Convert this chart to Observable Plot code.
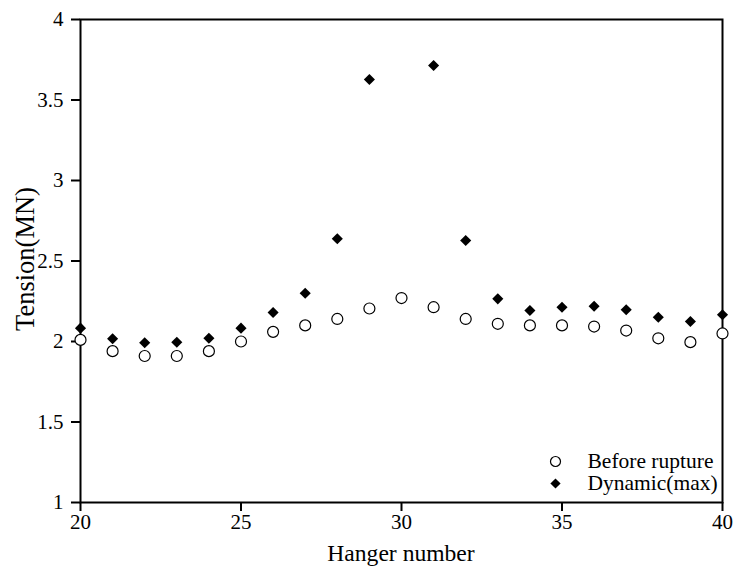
<!DOCTYPE html>
<html>
<head>
<meta charset="utf-8">
<script src="https://cdn.jsdelivr.net/npm/d3@7"></script>
<script src="https://cdn.jsdelivr.net/npm/@observablehq/plot@0.6"></script>
<style>
  html, body { margin: 0; padding: 0; background: #fff; font-family: "Liberation Serif", "Times New Roman", serif; color: #000; }
  #wrap { position: relative; width: 737px; height: 572px; }
  .ttl { position: absolute; white-space: nowrap; line-height: 1; font-family: "Liberation Serif", "Times New Roman", serif; }
  #xtitle { left: 80px; width: 642px; top: 542px; text-align: center; font-size: 23.6px; }
  #ytitle { left: 24.5px; top: 259px; font-size: 26.5px; transform: translate(-50%, -50%) rotate(-90deg); }
</style>
</head>
<body>
<div id="wrap">
  <div id="chart"></div>
  <div id="xtitle" class="ttl"></div>
  <div id="ytitle" class="ttl"></div>
</div>
<script>
const hangers = [20, 21, 22, 23, 24, 25, 26, 27, 28, 29, 30, 31, 32, 33, 34, 35, 36, 37, 38, 39, 40];
const beforeRupture = [2.01, 1.94, 1.91, 1.91, 1.94, 2.00, 2.06, 2.10, 2.14, 2.205, 2.27, 2.213, 2.14, 2.11, 2.10, 2.10, 2.093, 2.068, 2.02, 1.996, 2.05];
const dynamicMax = [2.083, 2.017, 1.992, 1.995, 2.02, 2.083, 2.18, 2.30, 2.638, 3.627, null, 3.714, 2.627, 2.265, 2.193, 2.213, 2.219, 2.197, 2.151, 2.124, 2.166];
const xTicks = [20, 25, 30, 35, 40];
const yTicks = [1, 1.5, 2, 2.5, 3, 3.5, 4];
const seriesNames = ["Before rupture", "Dynamic(max)"];
const xLabel = "Hanger number";
const yLabel = "Tension(MN)";

const beforeData = hangers.map((h, i) => ({h, v: beforeRupture[i]}));
const dynData = hangers.map((h, i) => ({h, v: dynamicMax[i]})).filter(d => d.v != null);

const font = "Liberation Serif, Times New Roman, serif";

document.getElementById("xtitle").textContent = xLabel;
document.getElementById("ytitle").textContent = yLabel;

function render() {
  const chart = Plot.plot({
    width: 737,
    height: 572,
    marginLeft: 80,
    marginRight: 15,
    marginTop: 19,
    marginBottom: 70,
    style: {background: "#fff", color: "#000"},
    x: {domain: [20, 40]},
    y: {domain: [1, 4]},
    marks: [
      Plot.axisX({ticks: xTicks, tickSize: 9, tickPadding: 3, strokeWidth: 2, fontSize: 21, fontFamily: font, label: null, tickFormat: d => `${d}`}),
      Plot.axisY({ticks: yTicks, tickSize: 9, tickPadding: 8, strokeWidth: 2, fontSize: 21, fontFamily: font, label: null, tickFormat: d => `${d}`}),
      Plot.frame({stroke: "#000", strokeWidth: 2}),
      Plot.dot(beforeData, {x: "h", y: "v", r: 5.5, symbol: "circle", fill: "#fff", stroke: "#000", strokeWidth: 1.2}),
      Plot.dot(dynData, {x: "h", y: "v", r: 5, symbol: "diamond2", fill: "#000", stroke: "none"}),
      // legend
      Plot.dot([seriesNames[0]], {frameAnchor: "bottom-right", dx: -167, dy: -41, r: 5, symbol: "circle", fill: "#fff", stroke: "#000", strokeWidth: 1.2}),
      Plot.dot([seriesNames[1]], {frameAnchor: "bottom-right", dx: -167, dy: -19, r: 4.6, symbol: "diamond2", fill: "#000"}),
      Plot.text([seriesNames[0]], {text: d => d, frameAnchor: "bottom-right", dx: -135, dy: -41, textAnchor: "start", lineAnchor: "middle", fontSize: 21.5, fontFamily: font, fill: "#000"}),
      Plot.text([seriesNames[1]], {text: d => d, frameAnchor: "bottom-right", dx: -135, dy: -19, textAnchor: "start", lineAnchor: "middle", fontSize: 21.5, fontFamily: font, fill: "#000"})
    ]
  });
  chart.style.fontFamily = font;
  const host = document.getElementById("chart");
  host.replaceChildren(chart);
  chart.querySelectorAll("text").forEach(t => { t.style.fontFamily = font; });
}

render();
if (document.fonts && document.fonts.load) {
  document.fonts.load("21px 'Liberation Serif'").then(render, () => {});
}
</script>
</body>
</html>
